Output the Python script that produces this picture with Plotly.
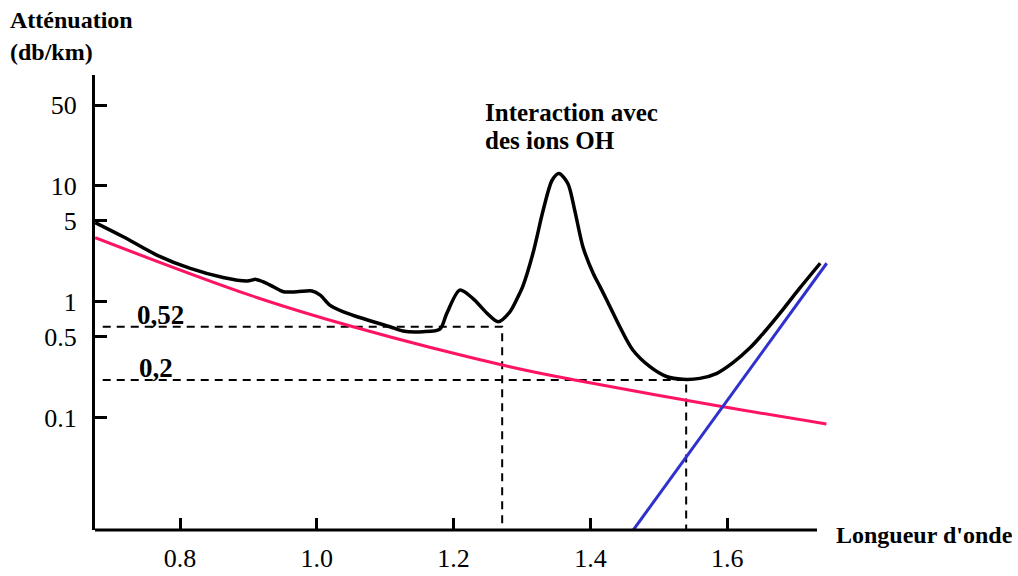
import plotly.graph_objects as go

# ---- data ----
lam_black = [0.676, 0.717, 0.766, 0.815, 0.863, 0.898, 0.911, 0.921, 0.936, 0.951,
             0.971, 0.993, 1.005, 1.019, 1.038, 1.059, 1.107, 1.126, 1.155, 1.180,
             1.190, 1.209, 1.228, 1.249, 1.265, 1.282, 1.294, 1.301, 1.316, 1.331,
             1.344, 1.354, 1.367, 1.377, 1.389, 1.404, 1.414, 1.424, 1.443, 1.462,
             1.487, 1.512, 1.535, 1.560, 1.585, 1.608, 1.633, 1.648, 1.682, 1.706, 1.736]
att_black = [4.83, 3.64, 2.53, 1.94, 1.62, 1.51, 1.56, 1.49, 1.35, 1.22,
             1.22, 1.24, 1.14, 0.936, 0.820, 0.742, 0.608, 0.558, 0.551, 0.581,
             0.794, 1.26, 1.07, 0.794, 0.672, 0.815, 1.10, 1.35, 2.62, 6.19,
             11.2, 12.8, 10.5, 6.19, 2.99, 1.76, 1.35, 1.03, 0.608, 0.383,
             0.275, 0.225, 0.214, 0.218, 0.241, 0.296, 0.398, 0.496, 0.865, 1.31, 2.15]

lam_rayleigh = [0.676, 0.902, 1.053, 1.282, 1.385, 1.594, 1.745]
att_rayleigh = [3.57, 1.14, 0.608, 0.275, 0.207, 0.124, 0.088]

lam_ir = [1.4627, 1.7455]
att_ir = [0.0107, 2.15]

lam_052, att_052 = 1.271, 0.608
lam_02, att_02 = 1.540, 0.211
lam_dash_start = 0.687

x_ticks = [0.8, 1.0, 1.2, 1.4, 1.6]
x_ticklabels = ["0.8", "1.0", "1.2", "1.4", "1.6"]
y_ticks = [50, 10, 5, 1, 0.5, 0.1]
y_ticklabels = ["50", "10", "5", "1", "0.5", "0.1"]

x_range = [0.6757, 1.7532]
y_range_log = [-1.971, 1.958]
y_min = 10 ** y_range_log[0]
x_axis_end = 1.7313

FONT = "Liberation Serif"

fig = go.Figure()

dash_style = dict(color="black", width=2, dash="8px,6px")
fig.add_trace(go.Scatter(x=[lam_dash_start, lam_052, lam_052], y=[att_052, att_052, y_min],
                         mode="lines", line=dash_style, hoverinfo="skip", showlegend=False))
fig.add_trace(go.Scatter(x=[lam_dash_start, lam_02, lam_02], y=[att_02, att_02, y_min],
                         mode="lines", line=dash_style, hoverinfo="skip", showlegend=False))

fig.add_trace(go.Scatter(x=lam_rayleigh, y=att_rayleigh, mode="lines",
                         line=dict(color="#ff1464", width=3, shape="spline"), showlegend=False))
fig.add_trace(go.Scatter(x=lam_ir, y=att_ir, mode="lines",
                         line=dict(color="#3030cc", width=3), showlegend=False))
fig.add_trace(go.Scatter(x=lam_black, y=att_black, mode="lines",
                         line=dict(color="black", width=3.5, shape="spline", smoothing=0.8),
                         showlegend=False))

# x axis line (ends before the curves)
fig.add_shape(type="line", xref="x", yref="paper", x0=x_range[0], x1=x_axis_end, y0=0, y1=0,
              line=dict(color="black", width=3))

def ann(text, x, y, size=24):
    fig.add_annotation(text="<b>%s</b>" % text, xref="paper", yref="paper", x=x, y=y,
                       xanchor="left", yanchor="middle", showarrow=False,
                       font=dict(family=FONT, size=size, color="black"))

ann("Atténuation", -0.118, 1.121)
ann("(db/km)", -0.118, 1.0505)
ann("Interaction avec", 0.5265, 0.9165, 25)
ann("des ions OH", 0.5265, 0.855, 25)
ann("Longueur d'onde", 1.0027, -0.011, 24)
ann("0,52", 0.0543, 0.4725, 27)
ann("0,2", 0.057, 0.356, 27)

fig.update_layout(
    width=1018, height=576,
    margin=dict(l=95, r=186, t=75, b=46, autoexpand=False),
    paper_bgcolor="white", plot_bgcolor="white",
    font=dict(family=FONT, size=26, color="black"),
    xaxis=dict(range=x_range, tickvals=x_ticks, ticktext=x_ticklabels, ticks="inside",
               ticklen=12, tickwidth=2.5, tickcolor="black", showgrid=False, zeroline=False,
               showline=False, ticklabelstandoff=10, automargin=False),
    yaxis=dict(type="log", range=y_range_log, tickvals=y_ticks, ticktext=y_ticklabels,
               ticks="inside", ticklen=12, tickwidth=2.5, tickcolor="black", showgrid=False,
               zeroline=False, showline=True, linecolor="black", linewidth=3,
               ticklabelstandoff=10, automargin=False),
)

fig.write_html("out.html", config={"displayModeBar": False},
               post_script="document.body.style.margin='0';document.body.style.overflow='hidden';")
